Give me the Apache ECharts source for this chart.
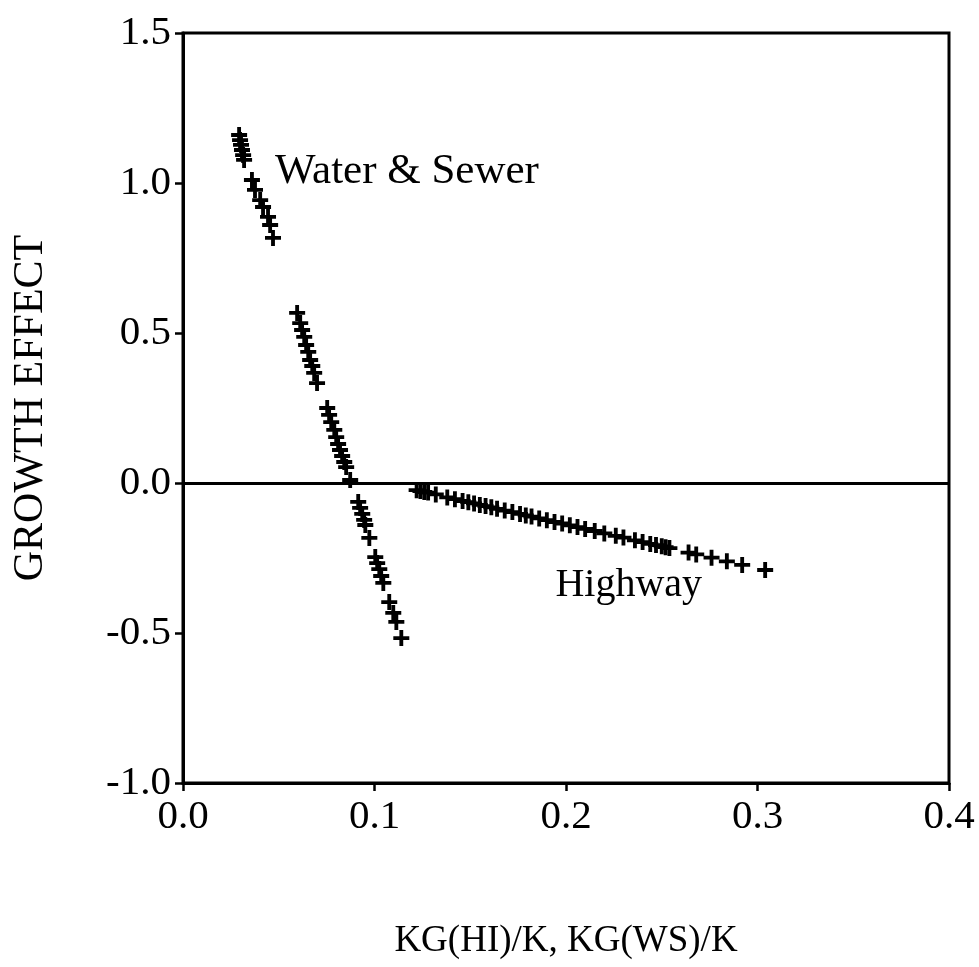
<!DOCTYPE html>
<html>
<head>
<meta charset="utf-8">
<script src="https://cdn.jsdelivr.net/npm/echarts@6/dist/echarts.min.js"></script>
<style>
  html, body { margin: 0; padding: 0; background: #fff; }
  #chart { width: 979px; height: 967px; }
</style>
</head>
<body>
<div id="chart"></div>
<script>
// Water & Sewer (steep line), x = KG(WS)/K, y = growth effect
var wsX = [0.0293, 0.0298, 0.0303, 0.0308, 0.0314, 0.0319, 0.0360, 0.0376, 0.0403, 0.0418, 0.0444, 0.0455, 0.0470,
  0.0596, 0.0612, 0.0622, 0.0633, 0.0643, 0.0654, 0.0664, 0.0675, 0.0685, 0.0700,
  0.0753, 0.0763, 0.0774, 0.0790, 0.0800, 0.0810, 0.0820, 0.0831, 0.0842, 0.0852, 0.0873,
  0.0915, 0.0925, 0.0936, 0.0946, 0.0952, 0.0973, 0.1004, 0.1014, 0.1025, 0.1035, 0.1046,
  0.1077, 0.1098, 0.1114, 0.1140]
var wsY = [1.160, 1.143, 1.127, 1.110, 1.093, 1.077, 1.010, 0.977, 0.943, 0.920, 0.887, 0.860, 0.817,
  0.567, 0.533, 0.510, 0.487, 0.460, 0.437, 0.410, 0.390, 0.367, 0.333,
  0.250, 0.227, 0.203, 0.177, 0.153, 0.130, 0.110, 0.090, 0.070, 0.053, 0.010,
  -0.063, -0.083, -0.103, -0.123, -0.140, -0.183, -0.247, -0.267, -0.287, -0.310, -0.333,
  -0.397, -0.433, -0.463, -0.517]

// Highway (shallow line), x = KG(HI)/K
var hiX = [0.122, 0.124, 0.126, 0.128, 0.132, 0.138, 0.142, 0.146, 0.149, 0.152, 0.155, 0.158, 0.161, 0.164,
  0.168, 0.172, 0.176, 0.179, 0.182, 0.186, 0.190, 0.194, 0.198, 0.202, 0.206, 0.210, 0.215, 0.220,
  0.226, 0.230, 0.236, 0.240, 0.244, 0.247, 0.250, 0.252, 0.254, 0.264, 0.268, 0.276, 0.284, 0.292, 0.304]
var hiY = [-0.024, -0.027, -0.030, -0.032, -0.038, -0.048, -0.054, -0.060, -0.064, -0.068, -0.073, -0.077, -0.081, -0.086,
  -0.092, -0.097, -0.103, -0.108, -0.112, -0.118, -0.124, -0.130, -0.135, -0.141, -0.147, -0.153, -0.160, -0.168,
  -0.176, -0.182, -0.191, -0.197, -0.203, -0.207, -0.211, -0.214, -0.217, -0.232, -0.238, -0.249, -0.261, -0.273, -0.290]

var xTicks = [0.0, 0.1, 0.2, 0.3, 0.4]
var yTicks = [-1.0, -0.5, 0.0, 0.5, 1.0, 1.5]

var font = '"Liberation Serif", "DejaVu Serif", serif'
var plus = 'path://M-1,-0.24H1V0.24H-1Z M-0.24,-1H0.24V1H-0.24Z'

function pairs(xs, ys) {
  return xs.map(function (x, i) { return [x, ys[i]] })
}

var chart = echarts.init(document.getElementById('chart'))

var option = {
  animation: false,
  backgroundColor: '#fff',
  textStyle: { fontFamily: font, color: '#000' },
  grid: {
    left: 183, right: 30, top: 33, bottom: 184,
    outerBoundsMode: 'none',
    show: true, borderColor: '#000', borderWidth: 3
  },
  xAxis: {
    type: 'value',
    min: xTicks[0], max: xTicks[xTicks.length - 1], interval: 0.1,
    name: 'KG(HI)/K, KG(WS)/K',
    nameLocation: 'middle', nameGap: 140,
    nameTextStyle: { fontFamily: font, fontSize: 37, color: '#000' },
    axisLine: { onZero: false, lineStyle: { color: '#000', width: 3 } },
    axisTick: { inside: false, length: 8, lineStyle: { color: '#000', width: 2.5 } },
    axisLabel: {
      margin: 14, fontFamily: font, fontSize: 41, color: '#000',
      formatter: function (v) { return v.toFixed(1) }
    },
    splitLine: { show: false }
  },
  yAxis: {
    type: 'value',
    min: yTicks[0], max: yTicks[yTicks.length - 1], interval: 0.5,
    name: 'GROWTH EFFECT',
    nameLocation: 'middle', nameGap: 131, nameRotate: 90,
    nameTextStyle: { fontFamily: font, fontSize: 42, color: '#000' },
    axisLine: { onZero: false, lineStyle: { color: '#000', width: 3 } },
    axisTick: { inside: false, length: 8, lineStyle: { color: '#000', width: 2.5 } },
    axisLabel: {
      margin: 12, fontFamily: font, fontSize: 41, color: '#000',
      formatter: function (v) { return v.toFixed(1) }
    },
    splitLine: { show: false }
  },
  series: [
    {
      name: 'Water & Sewer',
      type: 'scatter',
      symbol: plus,
      symbolSize: 16,
      itemStyle: { color: '#000', opacity: 1 },
      data: pairs(wsX, wsY),
      markLine: {
        silent: true,
        symbol: 'none',
        label: { show: false },
        lineStyle: { color: '#000', width: 3, type: 'solid' },
        data: [{ yAxis: 0 }]
      },
      markPoint: {
        silent: true,
        symbol: 'rect', symbolSize: 0,
        label: {
          show: true, position: 'right', distance: 0,
          fontFamily: font, fontSize: 43, color: '#000',
          formatter: '{b}'
        },
        data: [{ name: 'Water & Sewer', coord: [0.048, 1.037] }]
      }
    },
    {
      name: 'Highway',
      type: 'scatter',
      symbol: plus,
      symbolSize: 16,
      itemStyle: { color: '#000', opacity: 1 },
      data: pairs(hiX, hiY),
      markPoint: {
        silent: true,
        symbol: 'rect', symbolSize: 0,
        label: {
          show: true, position: 'right', distance: 0,
          fontFamily: font, fontSize: 40, color: '#000',
          formatter: '{b}'
        },
        data: [{ name: 'Highway', coord: [0.1945, -0.34] }]
      }
    }
  ]
}

chart.setOption(option)
</script>
</body>
</html>
